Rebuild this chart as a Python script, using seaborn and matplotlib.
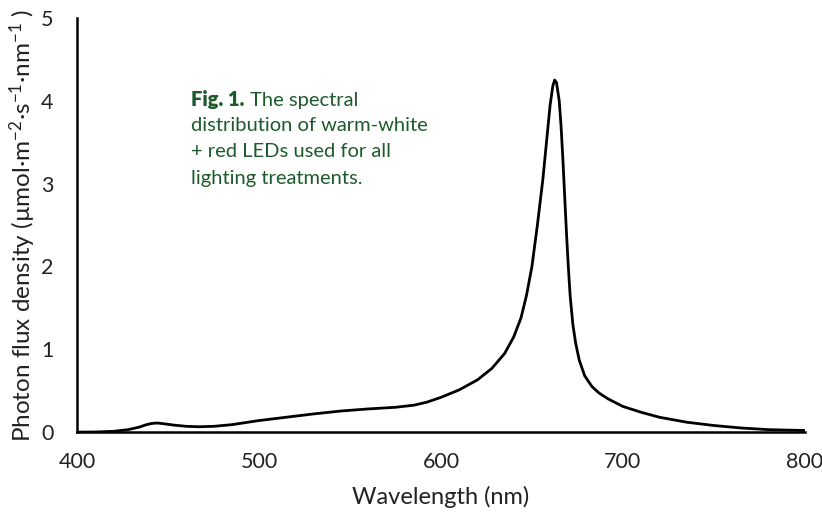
import matplotlib
matplotlib.use("Agg")
import matplotlib.pyplot as plt
import seaborn as sns
import pandas as pd

# spectrum
wavelength = [400, 410, 420, 428, 434, 438, 441, 444, 448, 453, 460, 467, 475, 485,
              500, 515, 530, 545, 560, 575, 585, 592, 600, 610, 620, 628, 635, 640,
              644, 647, 650, 653, 656, 658, 660, 661.5, 662.5, 663.5, 665, 666, 667,
              668, 669, 670, 671, 672.5, 674, 676, 679, 683, 687, 692, 700, 710, 720,
              735, 750, 765, 780, 800]
flux = [0.0, 0.002, 0.01, 0.03, 0.06, 0.09, 0.105, 0.11, 0.1, 0.085, 0.07, 0.065, 0.07, 0.09,
        0.14, 0.18, 0.22, 0.255, 0.28, 0.3, 0.325, 0.36, 0.42, 0.51, 0.63, 0.77, 0.95, 1.15,
        1.38, 1.65, 2.0, 2.5, 3.05, 3.5, 3.95, 4.18, 4.25, 4.22, 4.0, 3.7, 3.3,
        2.85, 2.4, 2.0, 1.65, 1.3, 1.08, 0.87, 0.68, 0.55, 0.47, 0.4, 0.31, 0.24, 0.18,
        0.12, 0.08, 0.05, 0.03, 0.02]

x_ticks = [400, 500, 600, 700, 800]
y_ticks = [0, 1, 2, 3, 4, 5]

caption_rest = ["distribution of warm-white", "+ red LEDs used for all",
                "lighting treatments."]

sns.set_style("white")
plt.rcParams["font.family"] = ["Lato", "DejaVu Sans"]
plt.rcParams["mathtext.fontset"] = "custom"
plt.rcParams["mathtext.rm"] = "Lato"
plt.rcParams["mathtext.it"] = "Lato:italic"

df = pd.DataFrame({"wavelength": wavelength, "flux": flux})

fig = plt.figure(figsize=(8.22, 5.12), dpi=100)
ax = fig.add_axes([0.094, 0.156, 0.885, 0.809])
sns.lineplot(data=df, x="wavelength", y="flux", ax=ax, color="black", linewidth=2)

ax.set_xlim(400, 800)
ax.set_ylim(0, 5)
ax.set_xticks(x_ticks)
ax.set_yticks(y_ticks)
ax.tick_params(direction="inout", length=10, width=1.8, labelsize=15.5,
               colors="black", labelcolor="#222222")
ax.tick_params(axis="x", pad=9)
ax.tick_params(axis="y", pad=12)
for side in ["top", "right"]:
    ax.spines[side].set_visible(False)
for side in ["left", "bottom"]:
    ax.spines[side].set_linewidth(1.8)
    ax.spines[side].set_color("black")

ax.set_xlabel("Wavelength (nm)", fontsize=17, color="#222222", labelpad=10)
ax.set_ylabel(r"Photon flux density (µmol·m$^{-2}$·s$^{-1}$·nm$^{-1}$ )",
              fontsize=17.5, color="#222222", labelpad=2)

# caption, one text per line
green = "#1d5a2c"
x0, y0, step = 0.157, 0.826, 0.064
fig_tag = ax.text(x0, y0, "Fig. 1.", transform=ax.transAxes, fontsize=14.5,
                  fontweight="heavy", color=green, va="top", ha="left")
ax.annotate(" The spectral", xy=(1, 0), xycoords=fig_tag, fontsize=14.5,
            color=green, va="bottom", ha="left")
for i, line in enumerate(caption_rest):
    ax.text(x0, y0 - step * (i + 1), line, transform=ax.transAxes, fontsize=14.5,
            color=green, va="top", ha="left")

fig.savefig("out.png", dpi=100)
